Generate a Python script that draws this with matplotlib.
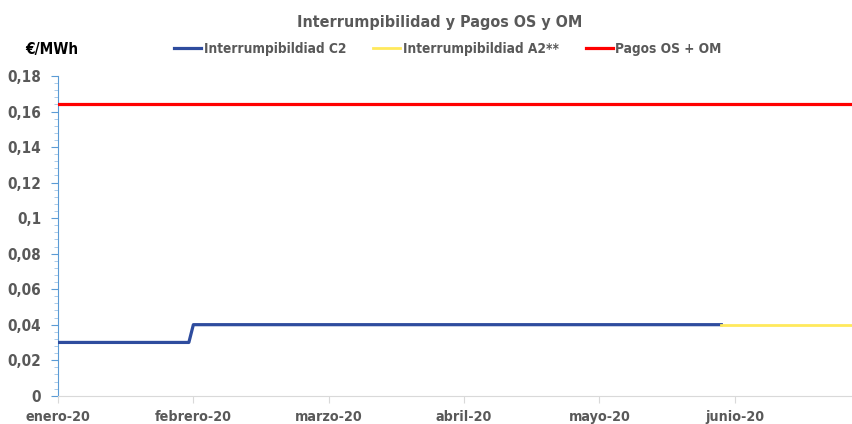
import matplotlib
matplotlib.use("Agg")
import matplotlib.pyplot as plt
from matplotlib.ticker import MultipleLocator, FuncFormatter

plt.rcParams['font.family'] = ['DejaVu Sans']
plt.rcParams['font.stretch'] = 'condensed'

# day index (0 = 1 enero 2020), months labelled every 30 points like the Excel category axis
month_labels = ["enero-20", "febrero-20", "marzo-20", "abril-20", "mayo-20", "junio-20"]
month_pos = [0, 30, 60, 90, 120, 150]

c2_days = [0, 29, 30, 147]
c2_vals = [0.03, 0.03, 0.04, 0.04]
a2_days = [147, 176]
a2_vals = [0.04, 0.04]
os_days = [0, 176]
os_vals = [0.164, 0.164]

gray = "#595959"

fig = plt.figure(figsize=(8.53, 4.24), dpi=100)
ax = fig.add_axes([0.068, 0.0667, 0.931, 0.754])

ax.plot(c2_days, c2_vals, color="#2E4C9E", lw=2.3, label="Interrumpibildiad C2", zorder=3)
ax.plot(a2_days, a2_vals, color="#FFE95C", lw=2.0, label="Interrumpibildiad A2**", zorder=3)
ax.plot(os_days, os_vals, color="#FF0000", lw=2.3, label="Pagos OS + OM", zorder=3)

ax.set_xlim(0, 176)
ax.set_ylim(0, 0.18)
ax.yaxis.set_major_locator(MultipleLocator(0.02))
ax.yaxis.set_minor_locator(MultipleLocator(0.004))
ax.yaxis.set_major_formatter(FuncFormatter(lambda v, p: ("%g" % round(v, 3)).replace(".", ",")))
ax.set_xticks(month_pos)
ax.set_xticklabels(month_labels)

for s in ["top", "right"]:
    ax.spines[s].set_visible(False)
ax.spines["left"].set_color("#5B9BD5")
ax.spines["bottom"].set_color("#D9D9D9")
ax.tick_params(axis="y", which="major", length=5, color="#5B9BD5", labelsize=11,
               labelcolor=gray, pad=7)
ax.tick_params(axis="y", which="minor", length=3, color="#9DC3E6")
ax.tick_params(axis="x", length=5, color="#D9D9D9", labelsize=10.3, labelcolor=gray, pad=5)
for t in ax.get_xticklabels() + ax.get_yticklabels():
    t.set_fontweight("bold")

fig.text(0.515, 0.948, "Interrumpibilidad y Pagos OS y OM", ha="center", va="center",
         fontsize=11.5, fontweight="bold", color=gray)
fig.text(0.03, 0.884, "€/MWh", ha="left", va="center", fontsize=11,
         fontweight="bold", color="black")

leg = fig.legend(loc="center", bbox_to_anchor=(0.525, 0.884), ncol=3, frameon=False,
                 fontsize=9.8, handlelength=2.0, handletextpad=0.15, columnspacing=2.0)
for t in leg.get_texts():
    t.set_color(gray)
    t.set_fontweight("bold")

fig.savefig("out.png", dpi=100)
